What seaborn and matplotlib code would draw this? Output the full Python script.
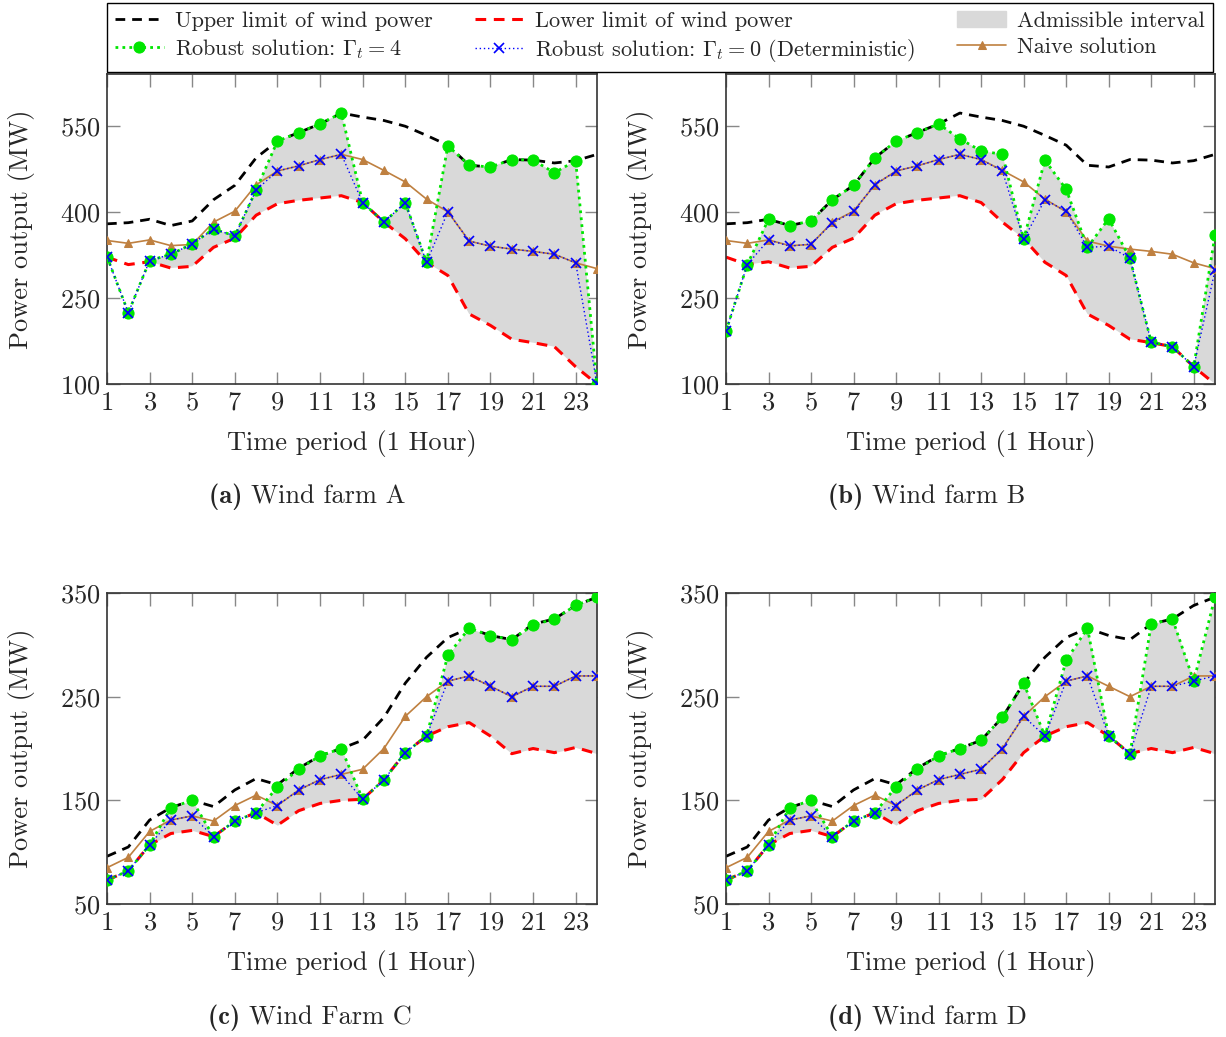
import numpy as np
import pandas as pd
import matplotlib.pyplot as plt
from matplotlib.patches import Patch
import seaborn as sns

hours = list(range(1, 25))

# wind farms A and B share limits and naive solution
upper_ab = [379, 381, 387, 376, 384, 421, 446, 494, 523, 538, 553, 572,
            565, 559, 549, 533, 516, 481, 478, 491, 490, 485, 489, 500]
lower_ab = [321, 308, 313, 302, 305, 338, 354, 394, 414, 420, 424, 428,
            416, 382, 353, 312, 289, 222, 202, 178, 172, 165, 130, 100]
naive_ab = [350, 345, 351, 341, 343, 382, 401, 447, 471, 480, 491, 500,
            491, 472, 452, 422, 400, 349, 340, 335, 331, 326, 311, 301]
robust4_a = [322, 224, 315, 326, 344, 370, 358, 438, 523, 538, 553, 572,
             416, 382, 416, 312, 515, 481, 478, 491, 490, 468, 489, 100]
robust0_a = [322, 224, 315, 326, 344, 370, 358, 438, 471, 480, 491, 500,
             416, 382, 416, 312, 400, 349, 340, 335, 331, 326, 311, 100]
robust4_b = [192, 308, 387, 376, 384, 421, 446, 494, 523, 538, 553, 527,
             506, 500, 352, 490, 439, 338, 388, 319, 173, 165, 130, 359]
robust0_b = [192, 308, 351, 340, 344, 380, 401, 447, 471, 480, 491, 500,
             491, 471, 352, 421, 401, 338, 340, 319, 173, 165, 130, 298]

# wind farms C and D
upper_cd = [96, 105, 131, 143, 150, 144, 160, 171, 165, 181, 193, 200,
            208, 230, 263, 288, 307, 316, 309, 305, 320, 325, 338, 346]
lower_cd = [73, 82, 107, 118, 121, 115, 130, 138, 126, 140, 147, 150,
            151, 170, 196, 212, 221, 225, 212, 195, 200, 196, 201, 195]
naive_cd = [85, 95, 120, 131, 135, 130, 145, 155, 145, 160, 170, 175,
            180, 200, 231, 250, 265, 270, 260, 250, 260, 260, 270, 270]
robust4_c = [73, 82, 107, 143, 150, 115, 130, 138, 163, 180, 193, 200,
             151, 170, 196, 212, 290, 316, 309, 305, 319, 325, 338, 346]
robust0_c = [73, 82, 107, 131, 135, 115, 130, 138, 145, 160, 170, 175,
             151, 170, 196, 212, 265, 270, 260, 250, 260, 260, 270, 270]
robust4_d = [73, 82, 107, 143, 150, 115, 130, 138, 163, 180, 193, 200,
             208, 230, 263, 212, 285, 316, 212, 195, 320, 325, 265, 346]
robust0_d = [73, 82, 107, 131, 135, 115, 130, 138, 145, 160, 170, 175,
             180, 200, 231, 212, 265, 270, 212, 195, 260, 260, 265, 270]

titles = ["(a)", "(b)", "(c)", "(d)"]
names = ["Wind farm A", "Wind farm B", "Wind Farm C", "Wind farm D"]

sns.set_theme(style="ticks")
plt.rcParams['font.family'] = 'cmr10'
plt.rcParams['mathtext.fontset'] = 'cm'
plt.rcParams['axes.formatter.use_mathtext'] = True

W, H = 1226, 1037
fig = plt.figure(figsize=(W / 100, H / 100), dpi=100)


def box(left, top, right, bottom):
    return [left / W, 1 - bottom / H, (right - left) / W, (bottom - top) / H]


panels = [
    (box(107, 74, 597, 384), upper_ab, lower_ab, naive_ab, robust4_a, robust0_a, (100, 640), [100, 250, 400, 550]),
    (box(726, 74, 1215, 384), upper_ab, lower_ab, naive_ab, robust4_b, robust0_b, (100, 640), [100, 250, 400, 550]),
    (box(107, 593, 597, 904), upper_cd, lower_cd, naive_cd, robust4_c, robust0_c, (50, 350), [50, 150, 250, 350]),
    (box(726, 593, 1215, 904), upper_cd, lower_cd, naive_cd, robust4_d, robust0_d, (50, 350), [50, 150, 250, 350]),
]
sub_x = [251, 872, 249, 872]
sub_y = [497, 497, 1018, 1018]

fs = 19
for i, (pos, up, lo, nv, r4, r0, ylim, yt) in enumerate(panels):
    ax = fig.add_axes(pos)
    df = pd.DataFrame({"t": hours, "upper": up, "lower": lo, "naive": nv,
                       "r4": r4, "r0": r0})
    r4a = np.array(r4, float)
    loa = np.array(lo, float)
    ax.fill_between(df["t"], loa, r4a, where=r4a >= loa - 0.5, interpolate=True,
                    color="#d9d9d9", lw=0, zorder=1, label="Admissible interval")
    sns.lineplot(data=df, x="t", y="upper", ax=ax, color="black", lw=2,
                 linestyle=(0, (3.5, 2.5)), legend=False, zorder=2,
                 label="Upper limit of wind power")
    sns.lineplot(data=df, x="t", y="lower", ax=ax, color="red", lw=2.2,
                 linestyle=(0, (3.5, 2.5)), legend=False, zorder=2,
                 label="Lower limit of wind power")
    sns.lineplot(data=df, x="t", y="naive", ax=ax, color="#bf8040", lw=1.2,
                 marker="^", ms=6, mec="#bf8040", legend=False, zorder=3,
                 label="Naive solution")
    sns.lineplot(data=df, x="t", y="r4", ax=ax, color="#00e600", lw=2,
                 linestyle=(0, (1, 1.5)), marker="o", ms=8, mec="#00e600",
                 legend=False, zorder=4,
                 label=r"Robust solution: $\Gamma_t = 4$")
    sns.lineplot(data=df, x="t", y="r0", ax=ax, color="blue", lw=1,
                 linestyle=(0, (1, 2)), marker="x", ms=7, mew=1.2, mec="blue",
                 legend=False, zorder=5,
                 label=r"Robust solution: $\Gamma_t = 0$ (Deterministic)")
    ax.set_xlim(1, 24)
    ax.set_ylim(*ylim)
    ax.set_xticks(range(1, 24, 2))
    ax.set_yticks(yt)
    ax.tick_params(direction="in", length=9, width=1, color="#888888",
                   top=True, right=True, labelsize=fs, pad=5)
    for s in ax.spines.values():
        s.set_color("#333333")
        s.set_linewidth(1.2)
    ax.set_xlabel("Time period (1 Hour)", fontsize=fs, labelpad=11)
    ax.set_ylabel("Power output (MW)", fontsize=fs, labelpad=18)
    fig.text(sub_x[i] / W, 1 - sub_y[i] / H, titles[i] + " ",
             ha="right", va="center", fontsize=fs, family="cmb10")
    fig.text(sub_x[i] / W, 1 - sub_y[i] / H, names[i],
             ha="left", va="center", fontsize=fs)
    if i == 0:
        hd = {h.get_label(): h for h in ax.get_legend_handles_labels()[0]}

order = ["Upper limit of wind power", r"Robust solution: $\Gamma_t = 4$",
         "Lower limit of wind power", r"Robust solution: $\Gamma_t = 0$ (Deterministic)",
         "Admissible interval", "Naive solution"]
handles = [hd[k] if k != "Admissible interval" else Patch(color="#d9d9d9") for k in order]
leg = fig.legend(handles, order, ncol=3, loc="lower left", mode="expand",
                 bbox_to_anchor=(107 / W, 1 - 72 / H, (1213 - 107) / W, 69 / H),
                 fontsize=16, fancybox=False, edgecolor="black", framealpha=1,
                 handlelength=2.2, borderaxespad=0, columnspacing=0.8,
                 handletextpad=0.5, labelspacing=0.3, borderpad=0.35)
leg.get_frame().set_linewidth(1)

fig.savefig("out.png", dpi=100)
